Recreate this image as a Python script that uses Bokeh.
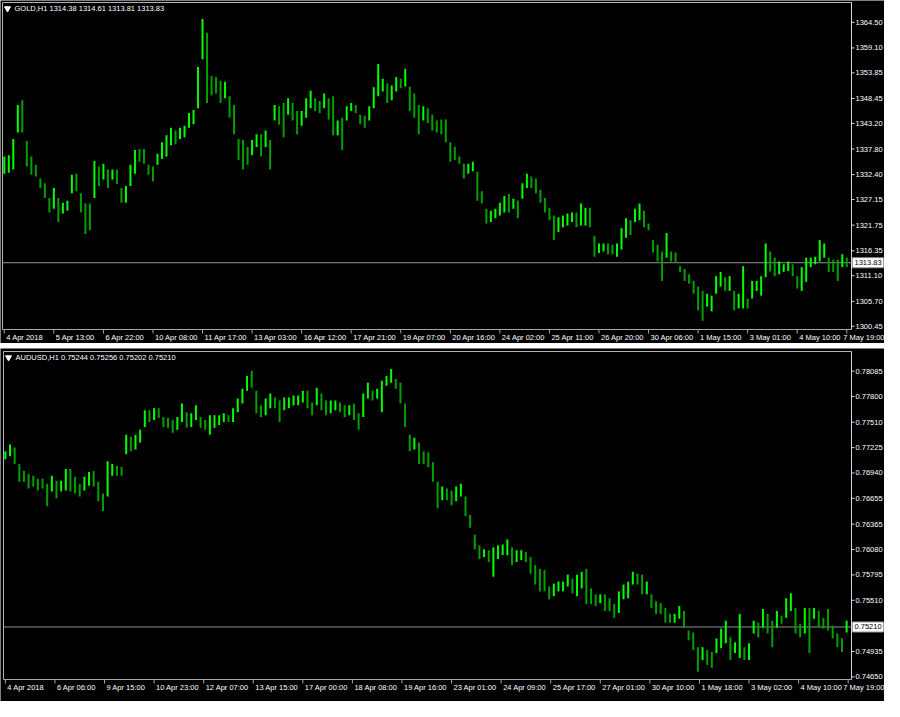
import numpy as np
from bokeh.plotting import figure
from bokeh.models import ColumnDataSource, Range1d
from bokeh.layouts import column
from bokeh.embed import file_html
from bokeh.resources import INLINE
from bokeh.core.properties import value

# ---------------- GOLD, H1 (read as 3-hour bars) ----------------
gold_high = [
    1336.2, 1336.5, 1339.9, 1347.1, 1348.1, 1339.5, 1336.2, 1334.5, 1331.6, 1330.6,
    1327.5, 1329.6, 1327.5, 1326.5, 1326.9, 1332.4, 1332.6, 1328.5, 1326.3, 1326.3,
    1335.3, 1334.1, 1334.7, 1333.5, 1333.5, 1333.5, 1329.6, 1330.0, 1334.5, 1337.6,
    1337.8, 1337.8, 1334.5, 1334.1, 1336.8, 1339.2, 1340.7, 1342.3, 1341.7, 1342.3,
    1342.7, 1345.4, 1346.0, 1355.1, 1365.2, 1362.3, 1353.2, 1353.0, 1352.2, 1352.0,
    1348.9, 1347.1, 1339.9, 1339.7, 1338.2, 1339.7, 1340.9, 1340.9, 1341.7, 1339.7,
    1347.1, 1346.8, 1347.5, 1348.5, 1347.5, 1345.8, 1345.8, 1348.5, 1350.1, 1348.5,
    1347.9, 1349.5, 1348.5, 1348.9, 1343.8, 1344.4, 1346.8, 1347.5, 1347.1, 1345.0,
    1344.8, 1346.8, 1350.8, 1355.7, 1352.6, 1351.6, 1351.2, 1353.0, 1352.6, 1354.7,
    1350.9, 1349.5, 1347.1, 1346.8, 1346.4, 1345.0, 1343.8, 1344.0, 1344.0, 1339.2,
    1338.2, 1336.2, 1334.7, 1334.7, 1335.1, 1333.0, 1328.9, 1325.2, 1324.8, 1325.2,
    1326.5, 1327.9, 1328.3, 1327.3, 1326.9, 1330.6, 1332.6, 1332.0, 1331.6, 1329.2,
    1327.5, 1325.4, 1323.8, 1323.4, 1323.8, 1324.2, 1324.4, 1324.4, 1326.3, 1325.4,
    1325.4, 1319.5, 1317.9, 1317.9, 1317.9, 1317.6, 1317.9, 1321.1, 1323.2, 1322.8,
    1325.2, 1326.3, 1324.8, 1322.1, 1318.6, 1317.6, 1316.2, 1320.1, 1316.2, 1316.0,
    1313.1, 1312.5, 1311.4, 1310.0, 1308.8, 1307.9, 1307.3, 1306.9, 1311.0, 1311.9,
    1310.8, 1311.0, 1307.9, 1307.3, 1313.1, 1306.3, 1310.0, 1310.0, 1311.0, 1317.9,
    1316.2, 1314.9, 1314.1, 1313.5, 1314.1, 1313.5, 1311.0, 1312.9, 1314.9, 1314.9,
    1315.1, 1318.6, 1317.9, 1314.9, 1314.5, 1314.5, 1315.6, 1314.9,
]
gold_low = [
    1332.6, 1332.8, 1333.5, 1341.3, 1341.3, 1334.1, 1332.4, 1332.0, 1329.6, 1327.5,
    1324.4, 1325.2, 1322.4, 1324.2, 1324.8, 1328.5, 1328.9, 1324.4, 1319.9, 1320.7,
    1327.5, 1330.0, 1331.4, 1329.6, 1331.4, 1330.4, 1326.5, 1326.5, 1330.0, 1332.6,
    1335.1, 1334.7, 1332.4, 1331.0, 1334.5, 1335.7, 1336.2, 1338.6, 1338.8, 1339.9,
    1340.3, 1342.3, 1343.0, 1346.4, 1356.7, 1347.5, 1349.1, 1349.5, 1347.5, 1348.5,
    1344.4, 1340.9, 1335.5, 1333.5, 1334.5, 1336.5, 1338.2, 1336.2, 1338.2, 1333.5,
    1343.8, 1342.9, 1340.3, 1345.0, 1343.8, 1340.9, 1342.7, 1344.4, 1346.4, 1345.8,
    1345.4, 1346.4, 1344.0, 1340.7, 1340.7, 1337.6, 1343.8, 1345.8, 1345.4, 1343.0,
    1342.3, 1343.8, 1346.4, 1348.9, 1349.9, 1347.5, 1348.1, 1349.9, 1350.6, 1351.0,
    1345.8, 1344.4, 1340.9, 1343.8, 1343.3, 1341.7, 1341.3, 1340.9, 1339.2, 1335.1,
    1335.5, 1334.7, 1331.6, 1332.6, 1333.1, 1326.9, 1326.3, 1322.1, 1322.4, 1323.2,
    1323.8, 1324.4, 1324.4, 1325.2, 1323.2, 1327.3, 1329.6, 1329.6, 1328.5, 1326.5,
    1324.4, 1322.8, 1318.6, 1320.3, 1321.3, 1321.7, 1322.4, 1321.3, 1321.7, 1321.7,
    1321.3, 1315.1, 1315.9, 1316.2, 1315.6, 1315.6, 1315.1, 1316.6, 1319.1, 1319.7,
    1322.4, 1322.8, 1321.3, 1320.7, 1316.0, 1314.1, 1310.0, 1314.9, 1314.1, 1313.9,
    1311.9, 1310.0, 1309.4, 1307.3, 1303.8, 1301.6, 1304.6, 1303.6, 1307.3, 1308.8,
    1307.9, 1307.9, 1303.8, 1304.2, 1304.2, 1304.2, 1306.3, 1307.9, 1306.9, 1310.8,
    1312.0, 1311.0, 1311.4, 1311.9, 1312.1, 1311.0, 1308.4, 1307.9, 1309.8, 1312.9,
    1313.5, 1314.1, 1314.9, 1311.9, 1311.9, 1310.0, 1312.9, 1312.9,
]
gold_close = [
    1334.5, 1335.0, 1339.0, 1345.0, 1343.5, 1335.1, 1333.5, 1332.5, 1330.0, 1328.0,
    1325.5, 1327.0, 1323.5, 1325.5, 1326.0, 1331.0, 1329.5, 1325.0, 1324.0, 1323.0,
    1333.0, 1331.5, 1333.0, 1330.5, 1332.5, 1331.0, 1327.5, 1329.5, 1333.5, 1336.5,
    1336.0, 1335.5, 1333.0, 1332.0, 1335.5, 1338.0, 1339.0, 1340.5, 1340.0, 1341.0,
    1341.5, 1344.5, 1345.5, 1352.0, 1359.0, 1353.0, 1351.0, 1350.5, 1349.0, 1349.5,
    1345.5, 1342.0, 1337.0, 1336.0, 1335.5, 1338.5, 1340.0, 1337.5, 1339.0, 1338.0,
    1345.5, 1344.0, 1342.0, 1347.0, 1345.0, 1343.0, 1344.0, 1346.0, 1348.5, 1347.0,
    1346.5, 1348.0, 1345.5, 1342.0, 1342.0, 1340.0, 1345.5, 1346.5, 1346.0, 1344.0,
    1343.0, 1345.0, 1349.0, 1351.0, 1351.0, 1348.5, 1349.5, 1352.0, 1351.5, 1352.0,
    1347.0, 1346.0, 1343.0, 1345.0, 1344.0, 1342.5, 1342.0, 1341.5, 1340.0, 1337.0,
    1336.5, 1335.0, 1332.5, 1333.5, 1334.0, 1327.5, 1327.0, 1323.0, 1323.5, 1324.0,
    1325.0, 1326.5, 1326.0, 1326.0, 1325.0, 1329.0, 1331.0, 1330.5, 1329.0, 1327.0,
    1325.5, 1323.5, 1320.5, 1321.5, 1322.0, 1322.5, 1323.0, 1322.0, 1323.0, 1323.0,
    1322.0, 1316.0, 1316.5, 1317.0, 1316.5, 1316.0, 1316.0, 1319.0, 1321.5, 1321.0,
    1323.5, 1324.0, 1322.0, 1321.0, 1316.8, 1315.0, 1312.0, 1316.0, 1315.0, 1314.5,
    1312.5, 1311.0, 1310.0, 1308.0, 1305.5, 1305.0, 1305.5, 1306.0, 1309.0, 1310.0,
    1309.0, 1309.5, 1305.0, 1306.0, 1307.0, 1305.0, 1308.0, 1309.0, 1310.0, 1315.0,
    1314.0, 1312.5, 1312.5, 1313.0, 1313.0, 1312.0, 1309.0, 1311.0, 1312.0, 1314.0,
    1314.5, 1316.0, 1316.0, 1313.0, 1312.5, 1312.0, 1314.0, 1313.83,
]
gold_time_labels = [
    "4 Apr 2018", "5 Apr 13:00", "6 Apr 22:00", "10 Apr 08:00", "11 Apr 17:00",
    "13 Apr 03:00", "16 Apr 12:00", "17 Apr 21:00", "19 Apr 07:00", "20 Apr 16:00",
    "24 Apr 02:00", "25 Apr 11:00", "26 Apr 20:00", "30 Apr 06:00", "1 May 15:00",
    "3 May 01:00", "4 May 10:00", "7 May 19:00",
]
gold_price_ticks = [1364.50, 1359.10, 1353.85, 1348.45, 1343.20, 1337.80, 1332.40,
                    1327.15, 1321.75, 1316.35, 1311.10, 1305.70, 1300.45]
gold_header = "GOLD,H1  1314.38 1314.61 1313.81 1313.83"
gold_last = 1313.83

# ---------------- AUDUSD, H1 (read as 3-hour bars) ----------------
aud_high = [
    0.77183, 0.77260, 0.77227, 0.77040, 0.76963, 0.76930, 0.76908, 0.76875, 0.76875, 0.76820,
    0.76908, 0.76853, 0.76853, 0.76985, 0.76985, 0.76897, 0.76820, 0.76897, 0.76952, 0.76963,
    0.76842, 0.76710, 0.77073, 0.77040, 0.77018, 0.77007, 0.77370, 0.77348, 0.77370, 0.77425,
    0.77645, 0.77645, 0.77667, 0.77667, 0.77568, 0.77557, 0.77535, 0.77568, 0.77722, 0.77623,
    0.77612, 0.77700, 0.77568, 0.77535, 0.77590, 0.77590, 0.77590, 0.77612, 0.77590, 0.77667,
    0.77777, 0.77887, 0.78030, 0.78085, 0.77865, 0.77700, 0.77777, 0.77832, 0.77788, 0.77755,
    0.77788, 0.77788, 0.77810, 0.77810, 0.77865, 0.77865, 0.77733, 0.77898, 0.77832, 0.77755,
    0.77755, 0.77755, 0.77733, 0.77700, 0.77700, 0.77722, 0.77612, 0.77832, 0.77953, 0.77865,
    0.77887, 0.77975, 0.78030, 0.78107, 0.77997, 0.77953, 0.77722, 0.77370, 0.77337, 0.77282,
    0.77183, 0.77172, 0.77062, 0.76842, 0.76787, 0.76765, 0.76743, 0.76787, 0.76820, 0.76677,
    0.76468, 0.76248, 0.76127, 0.76083, 0.76072, 0.76105, 0.76127, 0.76138, 0.76193, 0.76105,
    0.76072, 0.76072, 0.76050, 0.75995, 0.75907, 0.75863, 0.75852, 0.75665, 0.75698, 0.75720,
    0.75720, 0.75797, 0.75753, 0.75797, 0.75830, 0.75863, 0.75643, 0.75577, 0.75577, 0.75577,
    0.75533, 0.75467, 0.75610, 0.75687, 0.75720, 0.75830, 0.75808, 0.75797, 0.75720, 0.75577,
    0.75500, 0.75478, 0.75423, 0.75357, 0.75357, 0.75445, 0.75390, 0.75170, 0.75148, 0.74983,
    0.74983, 0.74950, 0.74928, 0.75082, 0.75192, 0.75280, 0.75093, 0.75038, 0.75357, 0.74983,
    0.75027, 0.75280, 0.75258, 0.75412, 0.75357, 0.75280, 0.75390, 0.75335, 0.75533, 0.75588,
    0.75423, 0.75247, 0.75423, 0.75423, 0.75423, 0.75390, 0.75313, 0.75412, 0.75225, 0.75137,
    0.75082, 0.75280,
]
aud_low = [
    0.77095, 0.77128, 0.77040, 0.76842, 0.76842, 0.76765, 0.76787, 0.76743, 0.76765, 0.76567,
    0.76732, 0.76655, 0.76732, 0.76743, 0.76732, 0.76710, 0.76677, 0.76743, 0.76798, 0.76787,
    0.76622, 0.76512, 0.76677, 0.76908, 0.76908, 0.76908, 0.77150, 0.77183, 0.77205, 0.77282,
    0.77458, 0.77513, 0.77535, 0.77557, 0.77458, 0.77447, 0.77392, 0.77425, 0.77513, 0.77447,
    0.77458, 0.77535, 0.77447, 0.77425, 0.77370, 0.77447, 0.77480, 0.77513, 0.77513, 0.77513,
    0.77623, 0.77722, 0.77865, 0.77898, 0.77612, 0.77568, 0.77590, 0.77667, 0.77667, 0.77513,
    0.77645, 0.77667, 0.77700, 0.77700, 0.77733, 0.77667, 0.77590, 0.77700, 0.77645, 0.77590,
    0.77612, 0.77645, 0.77623, 0.77568, 0.77590, 0.77535, 0.77425, 0.77568, 0.77777, 0.77755,
    0.77777, 0.77623, 0.77920, 0.77953, 0.77887, 0.77722, 0.77458, 0.77183, 0.77205, 0.77040,
    0.77040, 0.77007, 0.76842, 0.76545, 0.76633, 0.76633, 0.76578, 0.76622, 0.76677, 0.76457,
    0.76325, 0.76083, 0.75973, 0.75995, 0.75940, 0.75775, 0.75973, 0.76017, 0.76017, 0.75907,
    0.75940, 0.75962, 0.75940, 0.75808, 0.75687, 0.75610, 0.75610, 0.75522, 0.75555, 0.75610,
    0.75610, 0.75665, 0.75588, 0.75555, 0.75643, 0.75467, 0.75467, 0.75445, 0.75478, 0.75390,
    0.75390, 0.75313, 0.75368, 0.75522, 0.75533, 0.75687, 0.75687, 0.75577, 0.75577, 0.75423,
    0.75357, 0.75357, 0.75258, 0.75258, 0.75258, 0.75302, 0.75203, 0.75060, 0.74950, 0.74708,
    0.74840, 0.74785, 0.74752, 0.74917, 0.74972, 0.75027, 0.74840, 0.74917, 0.74862, 0.74840,
    0.74840, 0.75137, 0.75093, 0.75203, 0.75137, 0.74983, 0.75203, 0.75247, 0.75313, 0.75390,
    0.75137, 0.75093, 0.75137, 0.74917, 0.75302, 0.75203, 0.75192, 0.75170, 0.75082, 0.74983,
    0.74928, 0.75148,
]
aud_close = [
    0.77139, 0.77172, 0.77095, 0.76930, 0.76897, 0.76853, 0.76842, 0.76820, 0.76798, 0.76710,
    0.76853, 0.76710, 0.76798, 0.76875, 0.76820, 0.76765, 0.76743, 0.76853, 0.76897, 0.76853,
    0.76677, 0.76633, 0.76963, 0.76985, 0.76952, 0.76941, 0.77293, 0.77260, 0.77315, 0.77370,
    0.77590, 0.77568, 0.77612, 0.77590, 0.77502, 0.77480, 0.77458, 0.77513, 0.77645, 0.77535,
    0.77557, 0.77623, 0.77502, 0.77480, 0.77513, 0.77535, 0.77557, 0.77568, 0.77557, 0.77623,
    0.77733, 0.77843, 0.77975, 0.77953, 0.77700, 0.77645, 0.77700, 0.77755, 0.77733, 0.77645,
    0.77733, 0.77733, 0.77755, 0.77777, 0.77810, 0.77755, 0.77667, 0.77810, 0.77755, 0.77667,
    0.77700, 0.77711, 0.77667, 0.77645, 0.77645, 0.77590, 0.77480, 0.77777, 0.77865, 0.77810,
    0.77843, 0.77865, 0.77975, 0.78030, 0.77953, 0.77810, 0.77535, 0.77260, 0.77260, 0.77150,
    0.77095, 0.77073, 0.76985, 0.76710, 0.76710, 0.76688, 0.76655, 0.76710, 0.76765, 0.76545,
    0.76380, 0.76160, 0.76017, 0.76028, 0.75995, 0.75995, 0.76050, 0.76083, 0.76127, 0.75995,
    0.75995, 0.76017, 0.75995, 0.75885, 0.75775, 0.75720, 0.75665, 0.75610, 0.75610, 0.75665,
    0.75687, 0.75720, 0.75665, 0.75720, 0.75775, 0.75610, 0.75555, 0.75500, 0.75533, 0.75500,
    0.75445, 0.75390, 0.75533, 0.75610, 0.75665, 0.75775, 0.75742, 0.75665, 0.75665, 0.75500,
    0.75445, 0.75423, 0.75335, 0.75313, 0.75313, 0.75390, 0.75280, 0.75115, 0.75005, 0.74840,
    0.74895, 0.74873, 0.74840, 0.75005, 0.75115, 0.75170, 0.74950, 0.74983, 0.75005, 0.74895,
    0.74950, 0.75225, 0.75170, 0.75335, 0.75225, 0.75170, 0.75313, 0.75302, 0.75390, 0.75500,
    0.75225, 0.75170, 0.75335, 0.75225, 0.75357, 0.75313, 0.75247, 0.75225, 0.75137, 0.75060,
    0.75027, 0.75210,
]
aud_time_labels = [
    "4 Apr 2018", "6 Apr 06:00", "9 Apr 15:00", "10 Apr 23:00", "12 Apr 07:00",
    "13 Apr 15:00", "17 Apr 00:00", "18 Apr 08:00", "19 Apr 16:00", "23 Apr 01:00",
    "24 Apr 09:00", "25 Apr 17:00", "27 Apr 01:00", "30 Apr 10:00", "1 May 18:00",
    "3 May 02:00", "4 May 10:00", "7 May 19:00",
]
aud_price_ticks = [0.78085, 0.77800, 0.77510, 0.77225, 0.76940, 0.76655, 0.76365,
                   0.76080, 0.75795, 0.75510, 0.74935, 0.74650]
aud_header = "AUDUSD,H1  0.75244 0.75256 0.75202 0.75210"
aud_last = 0.75210

HOURS_PER_BAR = 3
UP_COLOR = "#00ff00"
DOWN_COLOR = "#00a000"
FONT = "Liberation Sans"
FS = "7.5px"
CHAR_W = 3.9
W = 884


def make_panel(high, low, close, time_labels, hours_per_label, price_ticks, fmt,
               header, last, y_lo, y_hi, H, L, R, T, B):
    """Chart area spans pixels L..R horizontally and T..B vertically; the price
    scale and the time scale are drawn in the margins of the same frame."""
    n = len(close)
    x = np.arange(n)
    opens = [close[0]] + list(close[:-1])
    colors = [UP_COLOR if c >= o else DOWN_COLOR for c, o in zip(close, opens)]
    src = ColumnDataSource(dict(x=x, high=high, low=low, color=colors))

    x0, x1 = -0.4, n + 0.05
    ppu = (R - L) / (x1 - x0)
    ppv = (B - T) / (y_hi - y_lo)

    def dx(px):
        return px / ppu

    def dy(px):
        return px / ppv

    p = figure(width=W, height=H,
               x_range=Range1d(x0 - dx(L), x1 + dx(W - R)),
               y_range=Range1d(y_lo - dy(H - B), y_hi + dy(T)),
               output_backend="svg", toolbar_location=None, tools="",
               x_axis_location=None, y_axis_location=None, min_border=0)
    p.background_fill_color = "black"
    p.border_fill_color = "black"
    p.outline_line_color = None
    p.grid.visible = False

    # chart frame (left/top border, bottom time axis line, right price axis line)
    p.segment(x0=[x0, x0], y0=[y_lo, y_hi], x1=[x0, x1], y1=[y_hi, y_hi],
              line_color="#b4b4b4", line_width=1)
    p.segment(x0=[x0], y0=[y_lo], x1=[x1], y1=[y_lo], line_color="#a8a8a8", line_width=1)
    p.segment(x0=[x1], y0=[y_lo], x1=[x1], y1=[y_hi], line_color="#d8d8d8", line_width=1)

    # current price line
    p.segment(x0=[x0], y0=[last], x1=[x1], y1=[last], line_color="#8c919c", line_width=1)

    # bars
    p.segment(x0="x", y0="low", x1="x", y1="high", line_color="color", line_width=2,
              source=src)

    # price scale on the right
    p.segment(x0=[x1] * len(price_ticks), y0=price_ticks,
              x1=[x1 + dx(3)] * len(price_ticks), y1=price_ticks,
              line_color="#d8d8d8", line_width=1)
    p.text(x=[x1 + dx(4)] * len(price_ticks), y=price_ticks,
           text=[fmt % t for t in price_ticks], text_font=value(FONT), text_font_size=FS,
           text_color="white", text_align="left", text_baseline="middle")

    # current price box
    box_w = W - R - 2
    p.rect(x=[x1 + dx(1 + box_w / 2)], y=[last], width=box_w, height=10,
           width_units="screen", height_units="screen", fill_color="white",
           line_color="#9a9a9a")
    p.text(x=[x1 + dx(3)], y=[last], text=[fmt % last], text_font=value(FONT),
           text_font_size=FS, text_color="black", text_align="left",
           text_baseline="middle")

    # time scale below
    pos = [k * hours_per_label / HOURS_PER_BAR for k in range(len(time_labels))]
    p.segment(x0=pos, y0=[y_lo] * len(pos), x1=pos, y1=[y_lo - dy(4)] * len(pos),
              line_color="#a8a8a8", line_width=1)
    lab_x, lab_align = [], []
    for v, t in zip(pos, time_labels):
        start_px = L + (v - x0) * ppu + 2
        if start_px + len(t) * CHAR_W > W:
            lab_x.append(x1 + dx(W - R))
            lab_align.append("right")
        else:
            lab_x.append(v + dx(2))
            lab_align.append("left")
    lsrc = ColumnDataSource(dict(x=lab_x, y=[y_lo - dy(8)] * len(pos), text=time_labels,
                                 align=lab_align))
    p.text(x="x", y="y", text="text", text_align="align", source=lsrc,
           text_font=value(FONT), text_font_size=FS, text_color="white",
           text_baseline="middle")

    # header
    p.scatter(x=[x0 + dx(5)], y=[y_hi - dy(6)], marker="inverted_triangle", size=6,
              fill_color="white", line_color="white")
    p.text(x=[x0 + dx(12)], y=[y_hi - dy(6)], text=[header], text_font=value(FONT),
           text_font_size=FS, text_color="white", text_align="left",
           text_baseline="middle")
    return p


p1 = make_panel(gold_high, gold_low, gold_close, gold_time_labels, 33, gold_price_ticks,
                "%.2f", gold_header, gold_last, 1299.76, 1368.68,
                H=343, L=2, R=851, T=2, B=329)
p2 = make_panel(aud_high, aud_low, aud_close, aud_time_labels, 32, aud_price_ticks,
                "%.5f", aud_header, aud_last, 0.74620, 0.78305,
                H=353, L=3, R=851, T=3, B=331)

layout = column(p1, p2, spacing=5)
open("out.html", "w").write(file_html(layout, INLINE))
